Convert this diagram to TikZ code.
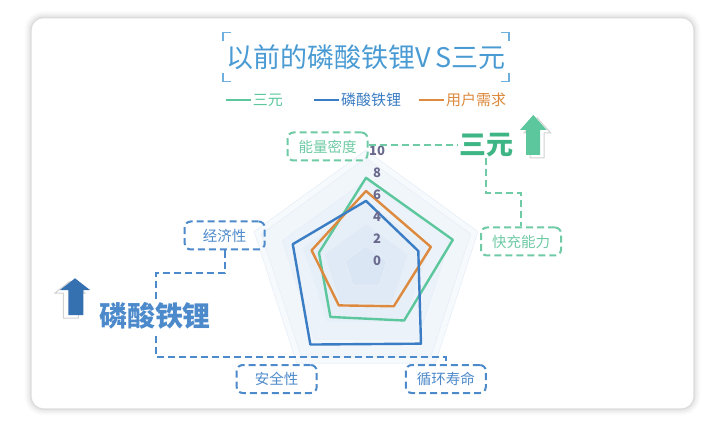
\documentclass[tikz,border=0pt]{standalone}
\usepackage{fontspec}
\setmainfont{Noto Sans CJK SC}
\usetikzlibrary{calc}
\definecolor{sangreen}{HTML}{5CC79C}
\definecolor{boxgreen}{HTML}{6FCBA5}
\definecolor{biggreen}{HTML}{3DB584}
\definecolor{lfpblue}{HTML}{3B7DC4}
\definecolor{boxblue}{HTML}{4D8ACB}
\definecolor{needorange}{HTML}{DD8A3E}
\definecolor{titleblue}{HTML}{4A9BD4}
\definecolor{labelblue}{HTML}{5B8EC0}
\definecolor{ticktext}{HTML}{6A6A8E}

\begin{document}
\begin{tikzpicture}
[x=1pt,y=-1pt,
 tag/.style={draw,rounded corners=6pt,dash pattern=on 7pt off 4pt,line width=2pt,
   text=labelblue,font=\fontsize{14.5}{14.5}\selectfont,minimum width=80pt,minimum height=28pt,inner sep=0pt},
 link/.style={dash pattern=on 7pt off 4pt,line width=2pt},
 series/.style={line width=2.4pt,line join=round},
 tick/.style={font=\bfseries\fontsize{13}{13}\selectfont,text=ticktext},
 legend/.style={font=\fontsize{15}{15}\selectfont,inner sep=1pt}]
  \useasboundingbox (0,0) rectangle (721,425);

  % card
  \foreach \s/\o in {7/0.02,5/0.03,3/0.04,1.5/0.05}
    \fill[black,opacity=\o,rounded corners=12pt+\s pt] (31.7-\s,18.3-\s) rectangle (693.3+\s,408.3+\s);
  \fill[white,rounded corners=12pt] (31.7,18.3) rectangle (693.3,408.3);

  % title
  \node[text=titleblue,font=\fontsize{27}{27}\selectfont] (title) at (366,57) {以前的磷酸铁锂V\,S三元};
  \draw[titleblue!80,line width=1.6pt] (222.7,41) |- (231,32.7);
  \draw[titleblue!80,line width=1.6pt] (222.7,73) |- (231,81.7);
  \draw[titleblue!80,line width=1.6pt] (509,41) |- (501,32.7);
  \draw[titleblue!80,line width=1.6pt] (509,73) |- (501,81.7);

  % legend
  \node[legend,text=sangreen,anchor=west] (lgsan) at (251.7,100) {三元};
  \node[legend,text=lfpblue,anchor=west] (lglfp) at (340,100) {磷酸铁锂};
  \node[legend,text=needorange,anchor=west] (lgneed) at (445,100) {用户需求};
  \foreach \n/\c in {lgsan/sangreen,lglfp/lfpblue,lgneed/needorange}
    \draw[\c,line width=2pt] ($(\n.west)+(-26,0)$) -- ($(\n.west)+(-1,0)$);

  % radar
  \coordinate (C) at (366,268);
  \coordinate (vT) at (366,158);
  \coordinate (vR) at (470.6,234);
  \coordinate (vBR) at (430.7,357);
  \coordinate (vBL) at (301.3,357);
  \coordinate (vL) at (261.4,234);

  \foreach \f/\p in {1.07/4,1/7,0.8/10,0.6/13,0.4/16,0.2/19}
    \filldraw[fill=lfpblue!\p!white,draw=lfpblue!12!white,line width=0.6pt]
      ($(C)!\f!(vT)$) -- ($(C)!\f!(vR)$) -- ($(C)!\f!(vBR)$) -- ($(C)!\f!(vBL)$) -- ($(C)!\f!(vL)$) -- cycle;

  \foreach \t/\r/\br/\bl/\l/\c in {0.82/0.83/0.59/0.55/0.45/sangreen,
                                    0.70/0.62/0.43/0.42/0.52/needorange,
                                    0.61/0.50/0.85/0.86/0.70/lfpblue}
    \draw[series,\c] ($(C)!\t!(vT)$) -- ($(C)!\r!(vR)$) -- ($(C)!\br!(vBR)$)
      -- ($(C)!\bl!(vBL)$) -- ($(C)!\l!(vL)$) -- cycle;

  \foreach \f/\v in {0/0,0.2/2,0.4/4,0.6/6,0.8/8,1/10}
    \node[tick] (tick\v) at ($(C)!\f!(vT)+(11,-7)$) {\v};

  % axis tags
  \node[tag,boxgreen] (energy) at (327.5,146.5) {能量密度};
  \node[tag,boxgreen] (charge) at (521,241.5) {快充能力};
  \node[tag,boxblue] (economy) at (224.7,235.5) {经济性};
  \node[tag,boxblue] (safety) at (276.7,379) {安全性};
  \node[tag,boxblue] (cycle) at (445.8,379) {循环寿命};

  % 三元 side
  \node[text=biggreen,font=\bfseries\fontsize{27}{27}\selectfont,inner sep=1pt] (sanyuan) at (486,145) {三元};
  \draw[link,boxgreen] (energy.east |- sanyuan.west) -- (sanyuan.west);
  \draw[link,boxgreen] (sanyuan.south) -- (sanyuan.south |- 0,193) -| (charge.north);
  \draw[gray!35,fill=white,line width=1pt,shift={(4,3)}]
    (533.3,115) -- (546.7,130) -- (540,130) -- (540,155) -- (526,155) -- (526,130) -- (520,130) -- cycle;
  \fill[sangreen] (533.3,115) -- (546.7,130) -- (540,130) -- (540,155) -- (526,155) -- (526,130) -- (520,130) -- cycle;

  % 磷酸铁锂 side
  \coordinate (lfpbend) at (156,357);
  \draw[link,boxblue] (economy.south) -- (economy.south |- 0,273) -| (lfpbend) -| (cycle.north);
  \node[text=boxblue,fill=white,font=\bfseries\fontsize{28}{28}\selectfont,inner sep=4pt] (lfp) at (155,316) {磷酸铁锂};
  \draw[gray!35,fill=white,line width=1pt,shift={(-5,3)}]
    (75,278.3) -- (90,290) -- (83.3,290) -- (83.3,315) -- (68.3,315) -- (68.3,290) -- (60,290) -- cycle;
  \fill[lfpblue!90!black] (75,278.3) -- (90,290) -- (83.3,290) -- (83.3,315) -- (68.3,315) -- (68.3,290) -- (60,290) -- cycle;

\end{tikzpicture}
\end{document}
